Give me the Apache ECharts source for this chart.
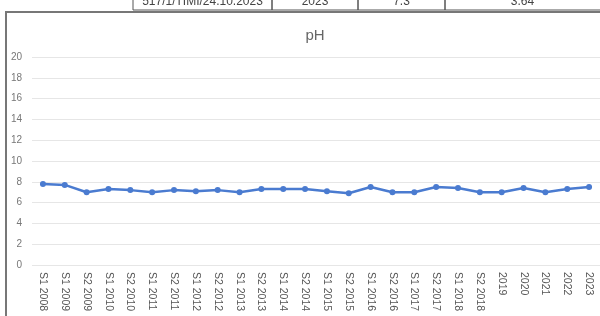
<!DOCTYPE html>
<html>
<head>
<meta charset="utf-8">
<script src="https://cdn.jsdelivr.net/npm/echarts@6/dist/echarts.min.js"></script>
<style>
  html, body { margin: 0; padding: 0; background: #fff; }
  #chart { width: 600px; height: 316px; }
</style>
</head>
<body>
<div id="chart"></div>
<script>
const categories = [
  'S1 2008', 'S1 2009', 'S2 2009', 'S1 2010', 'S2 2010', 'S1 2011', 'S2 2011',
  'S1 2012', 'S2 2012', 'S1 2013', 'S2 2013', 'S1 2014', 'S2 2014', 'S1 2015',
  'S2 2015', 'S1 2016', 'S2 2016', 'S1 2017', 'S2 2017', 'S1 2018', 'S2 2018',
  '2019', '2020', '2021', '2022', '2023'
];
const phValues = [
  7.8, 7.7, 7.0, 7.3, 7.2, 7.0, 7.2, 7.1, 7.2, 7.0, 7.3, 7.3, 7.3,
  7.1, 6.9, 7.5, 7.0, 7.0, 7.5, 7.4, 7.0, 7.0, 7.4, 7.0, 7.3, 7.5
];
// partial table row visible above the chart
const tableCells = ['517/1/TIMI/24.10.2023', '2023', '7.3', '3.64'];

let chartDom = document.getElementById('chart');
let myChart = echarts.init(chartDom, null, { renderer: 'canvas' });

const cellEdges = [133, 272, 358, 445, 620];
let tableGraphics = [];
tableCells.forEach((t, i) => {
  tableGraphics.push({
    type: 'rect',
    shape: { x: cellEdges[i], y: -10, width: cellEdges[i + 1] - cellEdges[i], height: 20 },
    style: { fill: 'transparent', stroke: '#555', lineWidth: 1 }
  });
  tableGraphics.push({
    type: 'text',
    x: (cellEdges[i] + Math.min(cellEdges[i + 1], 600)) / 2,
    y: 2,
    style: {
      text: t, fill: '#444', font: '12px "Liberation Sans", Arial',
      textAlign: 'center', textVerticalAlign: 'middle'
    }
  });
});

let option = {
  animation: false,
  backgroundColor: '#fff',
  title: {
    text: 'pH',
    left: 310,
    top: 23,
    textAlign: 'center',
    textStyle: { color: '#666', fontSize: 15, fontWeight: 'normal', fontFamily: 'Liberation Sans' }
  },
  graphic: [
    {
      type: 'rect',
      shape: { x: 6, y: 12, width: 640, height: 320 },
      style: { fill: 'transparent', stroke: '#777', lineWidth: 2 }
    },
    ...tableGraphics
  ],
  grid: { left: 32, right: -4, top: 57, bottom: 51, containLabel: false },
  xAxis: {
    type: 'category',
    data: categories,
    boundaryGap: true,
    axisLine: { show: false },
    axisTick: { show: false },
    axisLabel: {
      rotate: -90,
      interval: 0,
      color: '#555',
      fontSize: 10.5,
      margin: 7,
      fontFamily: 'Liberation Sans'
    }
  },
  yAxis: {
    type: 'value',
    min: 0,
    max: 20,
    interval: 2,
    axisLine: { show: false },
    axisTick: { show: false },
    axisLabel: { color: '#777', fontSize: 10, margin: 10, fontFamily: 'Liberation Sans' },
    splitLine: { lineStyle: { color: '#e6e6e6', width: 1 } }
  },
  series: [
    {
      type: 'line',
      data: phValues,
      symbol: 'circle',
      symbolSize: 6,
      lineStyle: { color: '#4a7bd0', width: 2.5 },
      itemStyle: { color: '#4a7bd0' }
    }
  ]
};
myChart.setOption(option);
</script>
</body>
</html>
